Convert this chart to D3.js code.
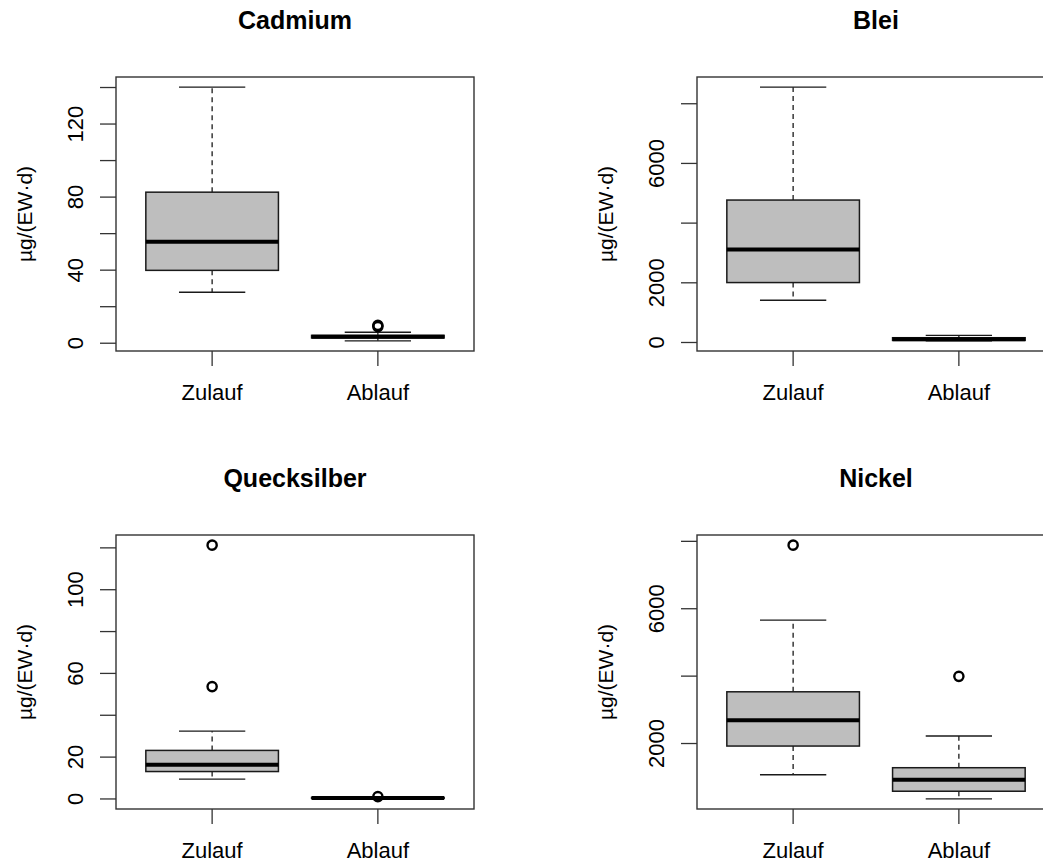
<!DOCTYPE html>
<html>
<head>
<meta charset="utf-8">
<script src="https://cdn.jsdelivr.net/npm/d3@7"></script>
<style>
  html, body { margin: 0; padding: 0; background: #fff; overflow: hidden; }
  svg { display: block; font-family: "Liberation Sans", Arial, sans-serif; }
</style>
</head>
<body>
<svg id="chart" width="1043" height="863"></svg>
<script>
// Groups on the x axis of every panel
const groups = ["Zulauf", "Ablauf"];
const yLabel = "µg/(EW·d)";

// Panel titles
const titles = ["Cadmium", "Blei", "Quecksilber", "Nickel"];

// Box statistics per group: [lower whisker, Q1, median, Q3, upper whisker]
const cadmiumStats = [[27.9, 39.9, 55.5, 82.7, 140.2], [1.3, 2.9, 3.6, 4.3, 6.0]];
const bleiStats = [[1416, 2008, 3113, 4773, 8556], [55, 70, 110, 160, 240]];
const quecksilberStats = [[9.5, 13.1, 16.3, 23.2, 32.4], [0.05, 0.3, 0.5, 0.7, 0.9]];
const nickelStats = [[1073, 1925, 2691, 3535, 5663], [358, 584, 924, 1282, 2224]];

// Outliers per group
const cadmiumOut = [[], [9.1, 9.8]];
const bleiOut = [[], []];
const quecksilberOut = [[53.7, 121.3], [1.1]];
const nickelOut = [[7887], [3994]];

// Axis ticks and the subset of ticks that carry a label
const cadmiumTicks = [0, 20, 40, 60, 80, 100, 120, 140];
const cadmiumLabels = [0, 40, 80, 120];
const bleiTicks = [0, 2000, 4000, 6000, 8000];
const bleiLabels = [0, 2000, 6000];
const quecksilberTicks = [0, 20, 40, 60, 80, 100, 120];
const quecksilberLabels = [0, 20, 60, 100];
const nickelTicks = [2000, 4000, 6000, 8000];
const nickelLabels = [2000, 6000];

const statsList = [cadmiumStats, bleiStats, quecksilberStats, nickelStats];
const outList = [cadmiumOut, bleiOut, quecksilberOut, nickelOut];
const tickList = [cadmiumTicks, bleiTicks, quecksilberTicks, nickelTicks];
const labelList = [cadmiumLabels, bleiLabels, quecksilberLabels, nickelLabels];

// Plot regions for the 2x2 layout (right column runs past the page edge)
const cols = [116, 697];
const rows = [77, 535];
const plotW = 358, plotH = 274;

const svg = d3.select("#chart");
const lineColor = "#1a1a1a";

titles.forEach((title, i) => {
  const x0 = cols[i % 2], y0 = rows[Math.floor(i / 2)];
  const stats = statsList[i], outs = outList[i];
  const g = svg.append("g").attr("transform", `translate(${x0},${y0})`);

  // y domain from all drawn values, widened by 4% on each side
  const all = stats.flat().concat(outs.flat());
  const lo = d3.min(all), hi = d3.max(all), pad = (hi - lo) * 0.04;
  const y = d3.scaleLinear().domain([lo - pad, hi + pad]).range([plotH, 0]);
  const x = d3.scaleLinear().domain([0.42, 2.58]).range([0, plotW]);
  const bw = x(0.8) - x(0), cw = x(0.4) - x(0);

  groups.forEach((grp, j) => {
    const cx = x(j + 1);
    const [wl, q1, med, q3, wh] = stats[j];
    // whiskers
    g.append("line").attr("x1", cx).attr("x2", cx).attr("y1", y(q3)).attr("y2", y(wh))
      .attr("stroke", lineColor).attr("stroke-width", 1.3).attr("stroke-dasharray", "5,4");
    g.append("line").attr("x1", cx).attr("x2", cx).attr("y1", y(q1)).attr("y2", y(wl))
      .attr("stroke", lineColor).attr("stroke-width", 1.3).attr("stroke-dasharray", "5,4");
    [wl, wh].forEach(v => {
      g.append("line").attr("x1", cx - cw / 2).attr("x2", cx + cw / 2).attr("y1", y(v)).attr("y2", y(v))
        .attr("stroke", lineColor).attr("stroke-width", 1.4);
    });
    // box
    g.append("rect").attr("x", cx - bw / 2).attr("width", bw)
      .attr("y", y(q3)).attr("height", Math.max(0.5, y(q1) - y(q3)))
      .attr("fill", "#bebebe").attr("stroke", lineColor).attr("stroke-width", 1.5);
    // median
    g.append("line").attr("x1", cx - bw / 2).attr("x2", cx + bw / 2).attr("y1", y(med)).attr("y2", y(med))
      .attr("stroke", "#000").attr("stroke-width", 4);
    // outliers
    outs[j].forEach(v => {
      g.append("circle").attr("cx", cx).attr("cy", y(v)).attr("r", 4.6)
        .attr("fill", "none").attr("stroke", "#000").attr("stroke-width", 2.4);
    });
  });

  // frame
  g.append("rect").attr("x", 0).attr("y", 0).attr("width", plotW).attr("height", plotH)
    .attr("fill", "none").attr("stroke", "#333").attr("stroke-width", 1.4);

  // y axis ticks and rotated labels
  const ticks = tickList[i], labels = labelList[i];
  ticks.forEach(t => {
    g.append("line").attr("x1", -16).attr("x2", 0).attr("y1", y(t)).attr("y2", y(t))
      .attr("stroke", "#333").attr("stroke-width", 1.3);
  });
  labels.forEach(t => {
    g.append("text").attr("transform", `translate(-33,${y(t)}) rotate(-90)`)
      .attr("text-anchor", "middle").attr("font-size", 22).attr("fill", "#000")
      .text(d3.format("d")(t));
  });

  // x axis ticks and group labels
  groups.forEach((grp, j) => {
    const cx = x(j + 1);
    g.append("line").attr("x1", cx).attr("x2", cx).attr("y1", plotH).attr("y2", plotH + 15)
      .attr("stroke", "#333").attr("stroke-width", 1.3);
    g.append("text").attr("x", cx).attr("y", plotH + 49)
      .attr("text-anchor", "middle").attr("font-size", 22).attr("fill", "#000").text(grp);
  });

  // y axis title
  g.append("text").attr("transform", `translate(-84,${plotH / 2}) rotate(-90)`)
    .attr("text-anchor", "middle").attr("font-size", 21).attr("fill", "#000").text(yLabel);

  // panel title
  g.append("text").attr("x", plotW / 2).attr("y", -48)
    .attr("text-anchor", "middle").attr("font-size", 25).attr("font-weight", "bold")
    .attr("fill", "#000").text(title);
});
</script>
</body>
</html>
